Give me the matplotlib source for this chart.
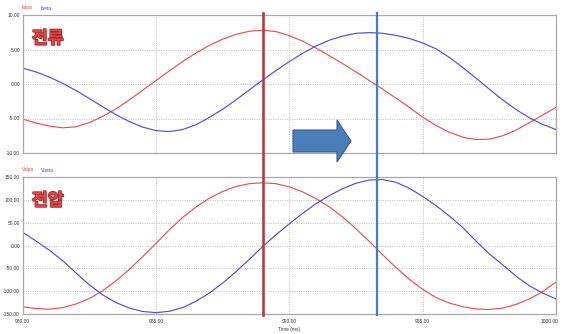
import matplotlib
matplotlib.use("Agg")
import matplotlib.pyplot as plt
import matplotlib.patheffects as pe
from matplotlib.lines import Line2D
from matplotlib.patches import Polygon
from matplotlib.transforms import blended_transform_factory, ScaledTranslation

# ---------------- data ----------------
time_ms = [980.0, 980.5, 981.0, 981.5, 982.0, 982.5, 983.0, 983.5, 984.0, 984.5,
           985.0, 985.5, 986.0, 986.5, 987.0, 987.5, 988.0, 988.5, 989.0, 989.5,
           990.0, 990.5, 991.0, 991.5, 992.0, 992.5, 993.0, 993.5, 994.0, 994.5,
           995.0, 995.5, 996.0, 996.5, 997.0, 997.5, 998.0, 998.5, 999.0, 999.5,
           1000.0]

i_alpha = [-5.1, -5.65, -6.1, -6.35, -6.2, -5.6, -4.7, -3.6, -2.3, -0.9,
           0.5, 1.9, 3.25, 4.5, 5.6, 6.5, 7.2, 7.65, 7.8, 7.6,
           7.0, 6.2, 5.2, 4.1, 2.95, 1.75, 0.5, -0.75, -2.05, -3.4,
           -4.8, -6.0, -7.0, -7.7, -8.05, -8.0, -7.5, -6.7, -5.6, -4.5,
           -3.4]

i_beta = [2.3, 1.75, 1.0, 0.1, -0.95, -2.1, -3.3, -4.45, -5.45, -6.25,
          -6.75, -6.9, -6.6, -5.9, -4.85, -3.65, -2.3, -0.85, 0.6, 1.95,
          3.25, 4.45, 5.5, 6.35, 6.95, 7.35, 7.45, 7.35, 7.05, 6.6,
          5.95, 5.1, 3.85, 2.4, 0.85, -0.75, -2.3, -3.7, -4.9, -5.85,
          -6.6]

v_alpha = [-134, -138, -139.5, -136, -128, -116, -99, -77, -52, -24,
           5, 35, 62, 85, 104, 119, 130, 136, 138, 136,
           129, 118, 103, 85, 63, 37, 9, -20, -48, -74,
           -96, -114, -126, -134, -139, -140, -137, -129, -117, -101,
           -80]

v_beta = [29, 10, -10, -33, -60, -86, -108, -125, -137, -144.5,
          -147, -144, -136, -122, -104, -82, -57, -30, -2, 24,
          48, 71, 92, 110, 125, 137, 144, 145, 139, 126,
          108, 88, 65, 40, 10, -18, -42, -67, -88, -104,
          -117]

x_ticks = [980, 985, 990, 995, 1000]
x_tick_labels = ["980.00", "985.00", "990.00", "995.00", "1000.00"]
top_ticks = [-10, -5, 0, 5, 10]
top_tick_labels = ["-10.00", "-5.00", "0.00", "5.00", "10.00"]
bot_ticks = [-150, -100, -50, 0, 50, 100, 150]
bot_tick_labels = ["-150.00", "-100.00", "-50.00", "0.00", "50.00", "100.00", "150.00"]

marker_red_t = 989.03
marker_blue_t = 993.27

top_legend = ["Ialpa", "Ibeta"]
bot_legend = ["Valpa", "Vbeta"]
top_title = "전류"
bot_title = "전압"
x_label = "Time (ms)"

# ---------------- styling ----------------
W, H = 562, 334
RED = "#e8474f"
BLUE = "#4646d8"
GRID = "#b4b4b4"
SPINE = "#a8a8a8"
TICKFONT = "Liberation Sans"

fig = plt.figure(figsize=(W / 100, H / 100), dpi=100)
fig.patch.set_facecolor("white")

left_px, right_px = 22.7, 556.0
ax_top = fig.add_axes([left_px / W, 1 - 153 / H, (right_px - left_px) / W, 138 / H])
ax_bot = fig.add_axes([left_px / W, 1 - 314 / H, (right_px - left_px) / W, 136.7 / H])


def style(ax, yticks, ylabels, show_x):
    ax.set_xlim(980, 1000)
    ax.set_xticks(x_ticks)
    ax.set_yticks(yticks)
    ax.set_yticklabels(ylabels, fontsize=3.5, family=TICKFONT, color="#333333")
    if show_x:
        ax.set_xticklabels(x_tick_labels, fontsize=3.5, family=TICKFONT, color="#333333")
    else:
        ax.set_xticklabels([])
    ax.tick_params(axis="both", length=0, pad=2)
    ax.tick_params(axis="x", pad=3.5)
    ax.grid(True, color=GRID, linestyle=(0, (1.2, 1.6)), linewidth=0.6)
    for s in ax.spines.values():
        s.set_color(SPINE)
        s.set_linewidth(0.9)
    ax.set_axisbelow(True)


ax_top.plot(time_ms, i_alpha, color=RED, lw=0.8)
ax_top.plot(time_ms, i_beta, color=BLUE, lw=0.8)
ax_top.set_ylim(-10, 10)
style(ax_top, top_ticks, top_tick_labels, False)

ax_bot.plot(time_ms, v_alpha, color=RED, lw=0.8)
ax_bot.plot(time_ms, v_beta, color=BLUE, lw=0.8)
ax_bot.set_ylim(-150, 150)
style(ax_bot, bot_ticks, bot_tick_labels, True)

# keep the last x label inside the canvas
last = ax_bot.get_xticklabels()[-1]
last.set_transform(last.get_transform() + ScaledTranslation(-5 / 72, 0, fig.dpi_scale_trans))

fig.text(289 / W, 1 - 329 / H, x_label, fontsize=3.5, family=TICKFONT,
         color="#333333", ha="center", va="center")

# legends above each plot
fig.text(22 / W, 1 - 8 / H, top_legend[0], fontsize=3.5, family=TICKFONT, color=RED, va="center")
fig.text(40 / W, 1 - 8 / H, top_legend[1], fontsize=3.5, family=TICKFONT, color=BLUE, va="center")
fig.text(22 / W, 1 - 170 / H, bot_legend[0], fontsize=3.5, family=TICKFONT, color=RED, va="center")
fig.text(41 / W, 1 - 170 / H, bot_legend[1], fontsize=3.5, family=TICKFONT, color=BLUE, va="center")

# Korean titles (WordArt style)
effects = [pe.withSimplePatchShadow(offset=(0.8, -0.8), shadow_rgbFace="#999999", alpha=0.6),
           pe.Stroke(linewidth=1.0, foreground="#9a1c1c"), pe.Normal()]
for ax, txt in ((ax_top, top_title), (ax_bot, bot_title)):
    ax.text(0.017, 0.83, txt, transform=ax.transAxes, fontsize=12.5,
            family=["Noto Sans CJK KR", "DejaVu Sans"], weight="bold",
            color="#e04848", ha="left", va="center", path_effects=effects)

# vertical cursor lines spanning both plots
y0, y1 = 1 - 315 / H, 1 - 13 / H
for tval, col, lw in ((marker_red_t, "#b83a3a", 1.9), (marker_blue_t, "#3f7fc4", 1.6)):
    tr = blended_transform_factory(ax_top.transData, fig.transFigure)
    fig.add_artist(Line2D([tval, tval], [y0, y1], transform=tr, color=col, lw=lw, zorder=5))

# block arrow
tail, tip, cy = 293.0, 351.0, 141.0
bh, hh, hl = 11.0, 21.0, 14.0
pts_px = [(tail, cy - bh), (tip - hl, cy - bh), (tip - hl, cy - hh), (tip, cy),
          (tip - hl, cy + hh), (tip - hl, cy + bh), (tail, cy + bh)]
pts = [(x / W, 1 - y / H) for x, y in pts_px]
fig.add_artist(Polygon(pts, closed=True, transform=fig.transFigure,
                       facecolor="#4a7ebb", edgecolor="#385d8a", lw=0.8, zorder=6))

fig.savefig("out.png", dpi=100)
